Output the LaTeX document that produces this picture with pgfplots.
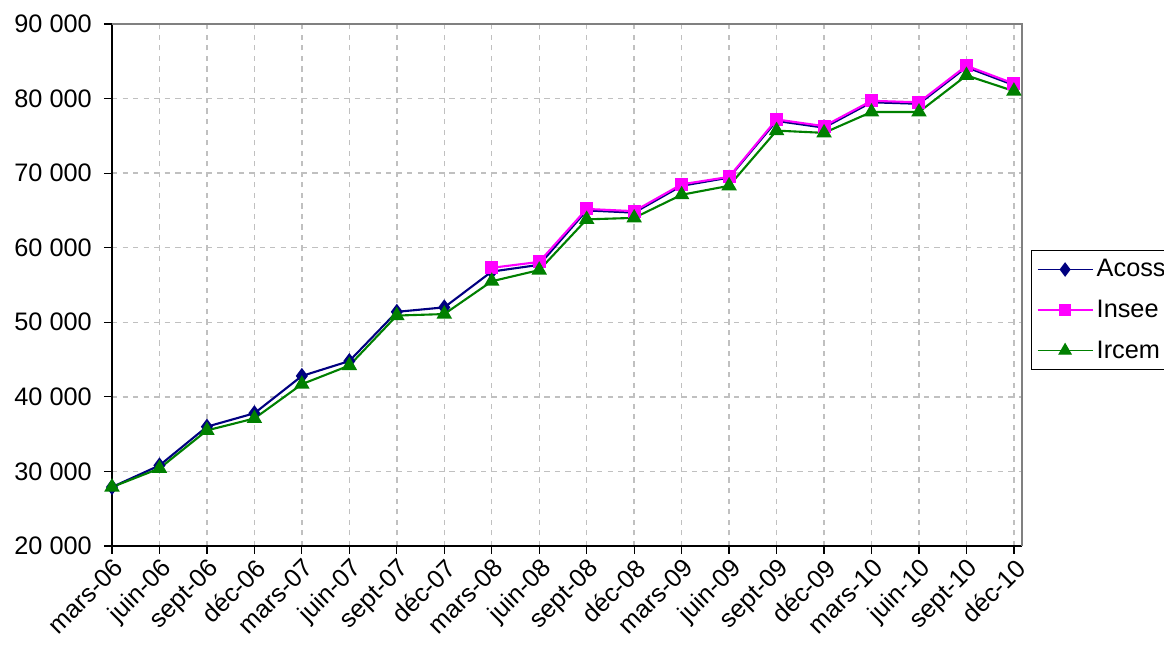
\documentclass[border=0pt]{standalone}
\usepackage{fontspec}
\setmainfont{Liberation Sans}
\usepackage{pgfplots}
\pgfplotsset{compat=1.18}
\definecolor{acoss}{HTML}{000080}
\definecolor{insee}{HTML}{FF00FF}
\definecolor{ircem}{HTML}{008000}
\definecolor{gridgray}{HTML}{C0C0C0}
\definecolor{boxgray}{HTML}{808080}

\begin{document}
\begin{tikzpicture}
\path[use as bounding box] (0,0) rectangle (23.28cm,13cm);
\begin{axis}[
  at={(2.24cm,2.08cm)}, anchor=south west,
  scale only axis, width=18.2cm, height=10.44cm,
  xmin=0, xmax=19.17, ymin=20000, ymax=90000,
  xtick={0,...,19},
  xticklabels={mars-06,juin-06,sept-06,déc-06,mars-07,juin-07,sept-07,déc-07,mars-08,juin-08,sept-08,déc-08,mars-09,juin-09,sept-09,déc-09,mars-10,juin-10,sept-10,déc-10},
  ytick={20000,30000,...,90000},
  scaled y ticks=false,
  axis x line*=bottom, axis y line*=left,
  axis line style={-, black, line width=0.9pt},
  tick align=outside, major tick length=0.16cm,
  tick style={black, line width=0.7pt},
  grid=major,
  grid style={gridgray, line width=0.8pt, dash pattern=on 3pt off 3pt},
  tick label style={font=\fontsize{14.4}{16}\selectfont},
  xticklabel style={rotate=45, anchor=north east, inner sep=1pt},
  yticklabel style={xshift=-0.12cm},
  /pgf/number format/assume math mode=true,
  /pgf/number format/1000 sep={\ },
  clip=false,
  legend style={at={(1.0099,0.567)}, anchor=north west, draw=black,
    line width=0.8pt, fill=white, font=\fontsize{14.4}{16}\selectfont,
    row sep=0.27cm, inner ysep=3pt},
  legend cell align=left,
  legend image code/.code={\draw[mark repeat=2,mark phase=2,#1,line width=0.7pt]
    plot coordinates {(0cm,0cm)(0.55cm,0cm)(1.1cm,0cm)};},
]
\draw[boxgray, line width=0.6pt] (rel axis cs:0,1) -- (rel axis cs:1,1) -- (rel axis cs:1,0);

\addplot[acoss, line width=1.2pt, mark=diamond*, mark size=3.6pt,
  mark options={solid, fill=acoss}] coordinates {
  (0,27900) (1,30800) (2,36000) (3,37800) (4,42800) (5,44800)
  (6,51400) (7,52000) (8,56800) (9,57700) (10,65000) (11,64700)
  (12,68300) (13,69400) (14,77000) (15,76100) (16,79500) (17,79300)
  (18,84200) (19,81800)
};
\addlegendentry{Acoss}

\addplot[insee, line width=1.2pt, mark=square*, mark size=3.1pt,
  mark options={solid, fill=insee}] coordinates {
  (8,57300) (9,58100) (10,65200) (11,64900) (12,68500) (13,69500)
  (14,77200) (15,76300) (16,79700) (17,79500) (18,84400) (19,82000)
};
\addlegendentry{Insee}

\addplot[ircem, line width=1.2pt, mark=triangle*, mark size=3.9pt,
  mark options={solid, fill=ircem}] coordinates {
  (0,27900) (1,30400) (2,35500) (3,37100) (4,41700) (5,44200)
  (6,50900) (7,51100) (8,55500) (9,57000) (10,63800) (11,64000)
  (12,67100) (13,68300) (14,75700) (15,75400) (16,78200) (17,78200)
  (18,83100) (19,81000)
};
\addlegendentry{Ircem}
\end{axis}
\end{tikzpicture}
\end{document}
